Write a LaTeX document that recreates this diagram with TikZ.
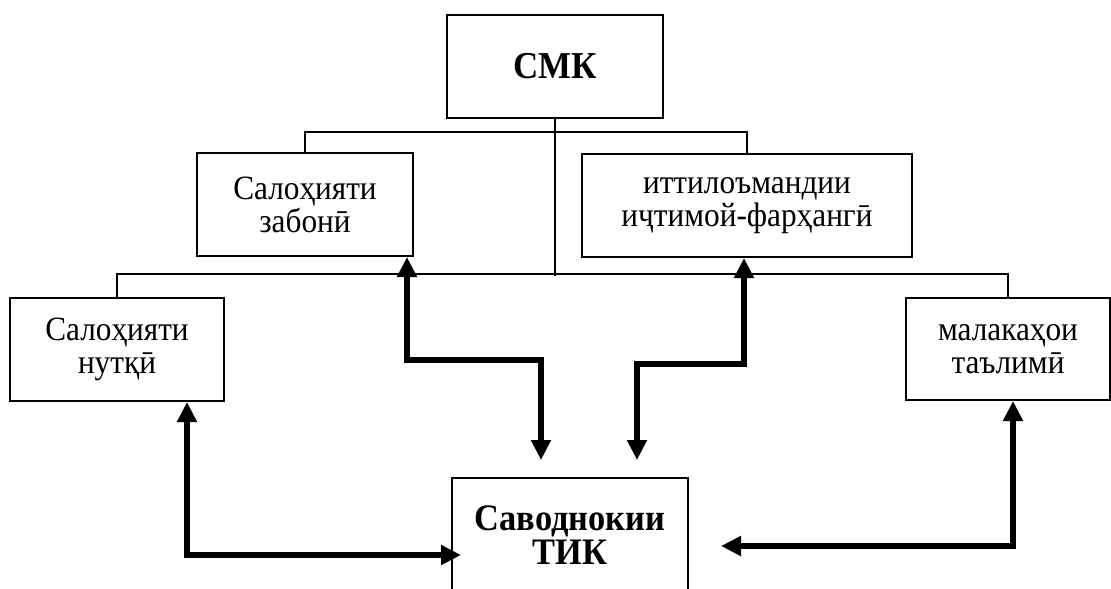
\documentclass[tikz,border=0pt]{standalone}
\usepackage{fontspec}
\setmainfont{Liberation Serif}[FakeStretch=0.92]
\usetikzlibrary{arrows.meta,calc}

\begin{document}
\begin{tikzpicture}[x=0.5pt, y=-0.5pt,
    box/.style={draw, line width=1pt, align=center, inner sep=0pt,
        font=\fontsize{17}{16.5}\selectfont},
    tree/.style={line width=1pt},
    biarrow/.style={line width=3pt,
        {Triangle[length=10pt,width=9.5pt]}-{Triangle[length=10pt,width=9.5pt]}}]

        \useasboundingbox (0, 0) rectangle (1111, 588);

        % boxes, placed at their centres
        \begin{scope}
            \node[box, minimum width=108pt, minimum height=51.5pt,
                font=\fontsize{19}{19}\selectfont\bfseries]
                (SMK) at (555, 66.5) {СМК};
            \node[box, minimum width=108pt, minimum height=51.5pt]
                (Zab) at (305, 204.5) {Салоҳияти\\забонӣ};
            \node[box, minimum width=165pt, minimum height=51.5pt]
                (Itt) at (747, 205.5) {иттилоъмандии\\иҷтимой-фарҳангӣ};
            \node[box, minimum width=107pt, minimum height=51.5pt]
                (Nut) at (117, 349.5) {Салоҳияти\\нутқӣ};
            \node[box, minimum width=102pt, minimum height=51pt]
                (Mal) at (1008, 349) {малакаҳои\\таълимӣ};
            \node[box, minimum width=118pt, minimum height=57pt,
                font=\fontsize{18.7}{17}\selectfont\bfseries]
                (TIK) at (570, 535) {Саводнокии\\ТИК};
        \end{scope}

        % the tree under SMK
        \begin{scope}[tree]
            \draw (SMK.south) -- ++(0, 157);
            \draw (Zab.north) -- ++(0, -20) -| (Itt.north);
            \draw (Nut.north) -- ++(0, -23) -| (Mal.north);
        \end{scope}

        % two-way links to TIK
        \begin{scope}[biarrow]
            \draw ([xshift=-3.5pt]Zab.south east) -- ++(0, 103)
                -| ([xshift=-14.5pt, yshift=8.5pt]TIK.north);
            \draw ([xshift=-1.5pt]Itt.south) -- ++(0, 106)
                -| ([xshift=33.5pt, yshift=8.5pt]TIK.north);
            \draw ([xshift=35pt]Nut.south)
                |- ([xshift=5pt, yshift=-10pt]TIK.west);
            \draw ([xshift=2.5pt]Mal.south)
                |- ([xshift=16pt, yshift=-5.5pt]TIK.east);
        \end{scope}

\end{tikzpicture}
\end{document}
